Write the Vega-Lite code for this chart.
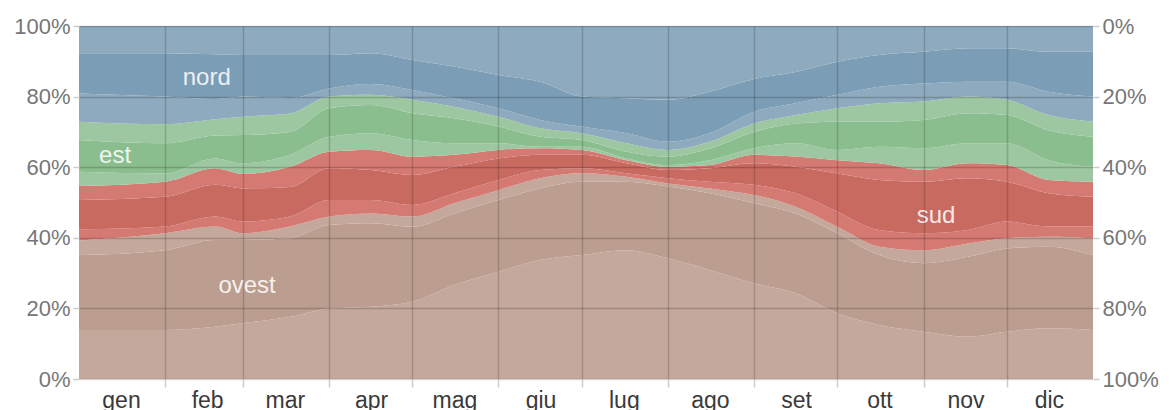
{
  "$schema": "https://vega.github.io/schema/vega-lite/v6.json",
  "width": 1014,
  "height": 353,
  "autosize": {"type": "none"},
  "padding": {"left": 79, "top": 26, "right": 76, "bottom": 31},
  "background": "white",
  "config": {
    "view": {"stroke": null},
    "axis": {"labelFont": "Liberation Sans", "domain": false, "zindex": 1}
  },
  "datasets": {
    "w": [
      {"d": 0, "b1": 13.9, "b2": 35.1, "b3": 39.2, "b4": 42.4, "b5": 50.7, "b6": 54.7, "b7": 58.7, "b8": 67.7, "b9": 72.9, "b10": 80.9, "b11": 92.3},
      {"d": 31, "b1": 13.9, "b2": 36.5, "b3": 41.3, "b4": 43.2, "b5": 51.6, "b6": 55.9, "b7": 58.2, "b8": 66.8, "b9": 72.2, "b10": 80.0, "b11": 92.3},
      {"d": 49, "b1": 14.8, "b2": 39.4, "b3": 43.2, "b4": 46.0, "b5": 55.0, "b6": 59.7, "b7": 62.5, "b8": 69.0, "b9": 73.6, "b10": 79.3, "b11": 92.0},
      {"d": 59, "b1": 15.8, "b2": 39.4, "b3": 41.3, "b4": 44.6, "b5": 54.0, "b6": 58.1, "b7": 61.1, "b8": 69.1, "b9": 74.3, "b10": 80.0, "b11": 91.8},
      {"d": 76, "b1": 17.6, "b2": 39.9, "b3": 43.2, "b4": 46.0, "b5": 54.4, "b6": 60.1, "b7": 63.5, "b8": 70.0, "b9": 75.2, "b10": 79.6, "b11": 91.8},
      {"d": 90, "b1": 20.0, "b2": 43.6, "b3": 46.0, "b4": 50.7, "b5": 59.7, "b6": 64.4, "b7": 68.6, "b8": 76.7, "b9": 80.0, "b10": 82.3, "b11": 91.8},
      {"d": 105, "b1": 20.5, "b2": 44.1, "b3": 46.9, "b4": 50.7, "b5": 59.2, "b6": 64.9, "b7": 69.6, "b8": 77.6, "b9": 80.5, "b10": 83.6, "b11": 92.3},
      {"d": 120, "b1": 21.9, "b2": 43.1, "b3": 46.0, "b4": 49.3, "b5": 57.8, "b6": 63.0, "b7": 67.7, "b8": 75.3, "b9": 79.1, "b10": 81.9, "b11": 90.4},
      {"d": 135, "b1": 26.6, "b2": 46.9, "b3": 49.8, "b4": 52.6, "b5": 60.1, "b6": 63.5, "b7": 66.8, "b8": 73.9, "b9": 77.1, "b10": 79.5, "b11": 88.5},
      {"d": 151, "b1": 30.4, "b2": 50.7, "b3": 53.5, "b4": 56.4, "b5": 62.5, "b6": 64.9, "b7": 66.8, "b8": 71.5, "b9": 74.3, "b10": 76.7, "b11": 86.1},
      {"d": 166, "b1": 33.7, "b2": 54.0, "b3": 56.9, "b4": 59.2, "b5": 63.5, "b6": 65.4, "b7": 65.8, "b8": 68.6, "b9": 71.0, "b10": 73.4, "b11": 84.2},
      {"d": 181, "b1": 35.1, "b2": 55.9, "b3": 58.3, "b4": 59.7, "b5": 63.5, "b6": 64.9, "b7": 65.8, "b8": 67.7, "b9": 69.6, "b10": 71.5, "b11": 80.0},
      {"d": 197, "b1": 36.5, "b2": 55.9, "b3": 57.3, "b4": 58.3, "b5": 61.1, "b6": 62.0, "b7": 62.5, "b8": 64.4, "b9": 66.8, "b10": 69.6, "b11": 79.5},
      {"d": 212, "b1": 34.2, "b2": 54.5, "b3": 55.4, "b4": 56.9, "b5": 59.2, "b6": 60.1, "b7": 60.6, "b8": 63.0, "b9": 64.9, "b10": 67.2, "b11": 79.1},
      {"d": 227, "b1": 30.9, "b2": 52.6, "b3": 54.0, "b4": 55.9, "b5": 59.7, "b6": 60.6, "b7": 62.0, "b8": 65.3, "b9": 67.2, "b10": 69.6, "b11": 81.4},
      {"d": 243, "b1": 27.1, "b2": 49.8, "b3": 52.1, "b4": 55.0, "b5": 61.1, "b6": 63.5, "b7": 65.4, "b8": 70.0, "b9": 72.4, "b10": 75.7, "b11": 85.0},
      {"d": 258, "b1": 24.3, "b2": 46.9, "b3": 48.8, "b4": 52.6, "b5": 60.1, "b6": 63.0, "b7": 66.8, "b8": 72.4, "b9": 74.8, "b10": 78.1, "b11": 87.0},
      {"d": 273, "b1": 18.6, "b2": 41.3, "b3": 43.1, "b4": 47.4, "b5": 58.2, "b6": 62.0, "b7": 64.9, "b8": 72.9, "b9": 76.7, "b10": 80.5, "b11": 89.9},
      {"d": 288, "b1": 15.3, "b2": 35.1, "b3": 37.5, "b4": 42.2, "b5": 56.4, "b6": 61.1, "b7": 65.8, "b8": 72.9, "b9": 78.1, "b10": 82.8, "b11": 91.8},
      {"d": 304, "b1": 13.4, "b2": 32.8, "b3": 36.5, "b4": 41.3, "b5": 55.9, "b6": 59.2, "b7": 65.4, "b8": 73.4, "b9": 78.6, "b10": 83.7, "b11": 92.7},
      {"d": 320, "b1": 12.0, "b2": 34.6, "b3": 38.4, "b4": 42.2, "b5": 56.9, "b6": 61.1, "b7": 66.8, "b8": 75.3, "b9": 80.0, "b10": 84.2, "b11": 93.7},
      {"d": 334, "b1": 13.4, "b2": 37.0, "b3": 39.9, "b4": 44.6, "b5": 55.9, "b6": 60.6, "b7": 66.8, "b8": 74.8, "b9": 79.1, "b10": 84.2, "b11": 93.7},
      {"d": 349, "b1": 14.4, "b2": 37.5, "b3": 40.3, "b4": 43.2, "b5": 52.6, "b6": 56.4, "b7": 62.0, "b8": 70.5, "b9": 74.8, "b10": 81.4, "b11": 92.7},
      {"d": 365, "b1": 13.9, "b2": 35.1, "b3": 39.9, "b4": 43.2, "b5": 51.6, "b6": 55.9, "b7": 60.1, "b8": 68.6, "b9": 72.9, "b10": 80.0, "b11": 92.7}
    ],
    "lab": [
      {"d": 46, "p": 83.3, "t": "nord"},
      {"d": 13, "p": 61.1, "t": "est"},
      {"d": 60.5, "p": 24.4, "t": "ovest"},
      {"d": 308.5, "p": 44.3, "t": "sud"}
    ]
  },
  "data": {"name": "w"},
  "resolve": {"axis": {"x": "independent", "y": "independent"}},
  "encoding": {
    "x": {"field": "d", "type": "quantitative", "scale": {"domain": [0, 365], "nice": false, "zero": false}, "axis": null}
  },
  "layer": [
    {
      "mark": {"type": "area", "color": "#c4a89c", "interpolate": "monotone"},
      "encoding": {
        "x": {"field": "d", "type": "quantitative", "scale": {"domain": [0, 365], "nice": false, "zero": false},
          "axis": {
            "values": [0, 31, 59, 90, 120, 151, 181, 212, 243, 273, 304, 334],
            "labelExpr": "['gen','feb','mar','apr','mag','giu','lug','ago','set','ott','nov','dic'][indexof([0,31,59,90,120,151,181,212,243,273,304,334], datum.value)]",
            "title": null, "grid": true, "gridColor": "#000000", "zindex": 1,
            "gridOpacity": {"condition": {"test": "datum.value === 0", "value": 0}, "value": 0.17},
            "gridWidth": 1.5,
            "tickColor": "#cccccc",
            "tickOpacity": {"condition": {"test": "datum.value === 0", "value": 0}, "value": 1},
            "tickSize": 8, "tickWidth": 1.5,
            "labelOffset": 42, "labelAlign": "center", "labelPadding": 2,
            "labelFontSize": 23, "labelColor": "#3a3a3a", "labelOverlap": false, "labelFlush": false, "labelBound": false
          }},
        "y": {"field": "b1", "type": "quantitative", "scale": {"domain": [0, 100], "nice": false},
          "axis": {
            "values": [0, 20, 40, 60, 80, 100], "labelExpr": "datum.value + '%'", "title": null, "zindex": 1,
            "grid": true, "gridColor": "#000000", "gridOpacity": 0.18, "gridWidth": 1.5,
            "tickColor": "#cccccc", "tickSize": 6, "tickWidth": 1.5, "labelPadding": 3,
            "labelFontSize": 22, "labelColor": "#777777", "labelOverlap": false, "labelFlush": false, "labelBound": false
          }},
        "y2": {"datum": 0}
      }
    },
    {
      "mark": {"type": "area", "color": "#bb9e90", "interpolate": "monotone"},
      "encoding": {
        "y": {"field": "b2", "type": "quantitative", "scale": {"domain": [0, 100], "nice": false},
          "axis": {
            "orient": "right", "values": [0, 20, 40, 60, 80, 100], "labelExpr": "(100 - datum.value) + '%'", "title": null, "zindex": 1,
            "grid": false, "tickColor": "#cccccc", "tickSize": 6, "tickWidth": 1.5, "labelPadding": 3,
            "labelFontSize": 22, "labelColor": "#777777", "labelOverlap": false, "labelFlush": false, "labelBound": false
          }},
        "y2": {"field": "b1"}
      }
    },
    {
      "mark": {"type": "area", "color": "#c4a89c", "interpolate": "monotone"},
      "encoding": {"y": {"field": "b3", "type": "quantitative", "scale": {"domain": [0, 100], "nice": false}, "axis": null}, "y2": {"field": "b2"}}
    },
    {
      "mark": {"type": "area", "color": "#d47a72", "interpolate": "monotone"},
      "encoding": {"y": {"field": "b4", "type": "quantitative", "scale": {"domain": [0, 100], "nice": false}, "axis": null}, "y2": {"field": "b3"}}
    },
    {
      "mark": {"type": "area", "color": "#c96a60", "interpolate": "monotone"},
      "encoding": {"y": {"field": "b5", "type": "quantitative", "scale": {"domain": [0, 100], "nice": false}, "axis": null}, "y2": {"field": "b4"}}
    },
    {
      "mark": {"type": "area", "color": "#d47a72", "interpolate": "monotone"},
      "encoding": {"y": {"field": "b6", "type": "quantitative", "scale": {"domain": [0, 100], "nice": false}, "axis": null}, "y2": {"field": "b5"}}
    },
    {
      "mark": {"type": "area", "color": "#9cc7a0", "interpolate": "monotone"},
      "encoding": {"y": {"field": "b7", "type": "quantitative", "scale": {"domain": [0, 100], "nice": false}, "axis": null}, "y2": {"field": "b6"}}
    },
    {
      "mark": {"type": "area", "color": "#8bbe8e", "interpolate": "monotone"},
      "encoding": {"y": {"field": "b8", "type": "quantitative", "scale": {"domain": [0, 100], "nice": false}, "axis": null}, "y2": {"field": "b7"}}
    },
    {
      "mark": {"type": "area", "color": "#9cc7a0", "interpolate": "monotone"},
      "encoding": {"y": {"field": "b9", "type": "quantitative", "scale": {"domain": [0, 100], "nice": false}, "axis": null}, "y2": {"field": "b8"}}
    },
    {
      "mark": {"type": "area", "color": "#8eaabe", "interpolate": "monotone"},
      "encoding": {"y": {"field": "b10", "type": "quantitative", "scale": {"domain": [0, 100], "nice": false}, "axis": null}, "y2": {"field": "b9"}}
    },
    {
      "mark": {"type": "area", "color": "#7b9db5", "interpolate": "monotone"},
      "encoding": {"y": {"field": "b11", "type": "quantitative", "scale": {"domain": [0, 100], "nice": false}, "axis": null}, "y2": {"field": "b10"}}
    },
    {
      "mark": {"type": "area", "color": "#8eaabe", "interpolate": "monotone"},
      "encoding": {"y": {"field": "b11", "type": "quantitative", "scale": {"domain": [0, 100], "nice": false}, "axis": null}, "y2": {"datum": 100}}
    },
    {
      "data": {"name": "lab"},
      "mark": {"type": "text", "color": "#ffffff", "opacity": 0.85, "font": "Liberation Sans", "fontSize": 24, "align": "center", "baseline": "alphabetic"},
      "encoding": {
        "y": {"field": "p", "type": "quantitative", "scale": {"domain": [0, 100], "nice": false}, "axis": null},
        "text": {"field": "t"}
      }
    }
  ]
}
